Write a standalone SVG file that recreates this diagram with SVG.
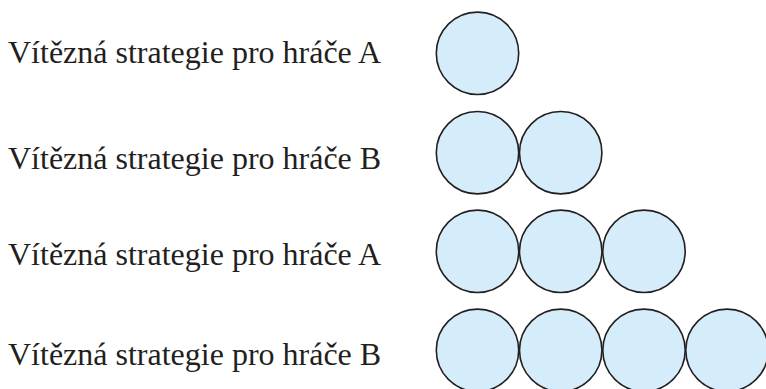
<svg xmlns="http://www.w3.org/2000/svg" width="766" height="389" viewBox="0 0 766 389">
<style>
.t{font-family:"Liberation Serif","Times New Roman",serif;font-size:32px;fill:#231f20}
.c{fill:#d5edfa;stroke:#231f20;stroke-width:1.6}
</style>
<rect width="766" height="389" fill="#ffffff"/>
<g id="row1">
<text class="t" x="8" y="63">Vítězná strategie pro hráče A</text>
<circle class="c" cx="477.5" cy="53.3" r="41.2"/>
</g>
<g id="row2">
<text class="t" x="8" y="169">Vítězná strategie pro hráče B</text>
<circle class="c" cx="477.5" cy="152.7" r="41.2"/>
<circle class="c" cx="560.7" cy="152.7" r="41.2"/>
</g>
<g id="row3">
<text class="t" x="8" y="265">Vítězná strategie pro hráče A</text>
<circle class="c" cx="477.5" cy="251.3" r="41.2"/>
<circle class="c" cx="560.7" cy="251.3" r="41.2"/>
<circle class="c" cx="644" cy="251.3" r="41.2"/>
</g>
<g id="row4">
<text class="t" x="8" y="365">Vítězná strategie pro hráče B</text>
<circle class="c" cx="477.5" cy="350.3" r="41.2"/>
<circle class="c" cx="560.7" cy="350.3" r="41.2"/>
<circle class="c" cx="644" cy="350.3" r="41.2"/>
<circle class="c" cx="727" cy="350.3" r="41.2"/>
</g>
<g id="connectors"/>
</svg>
